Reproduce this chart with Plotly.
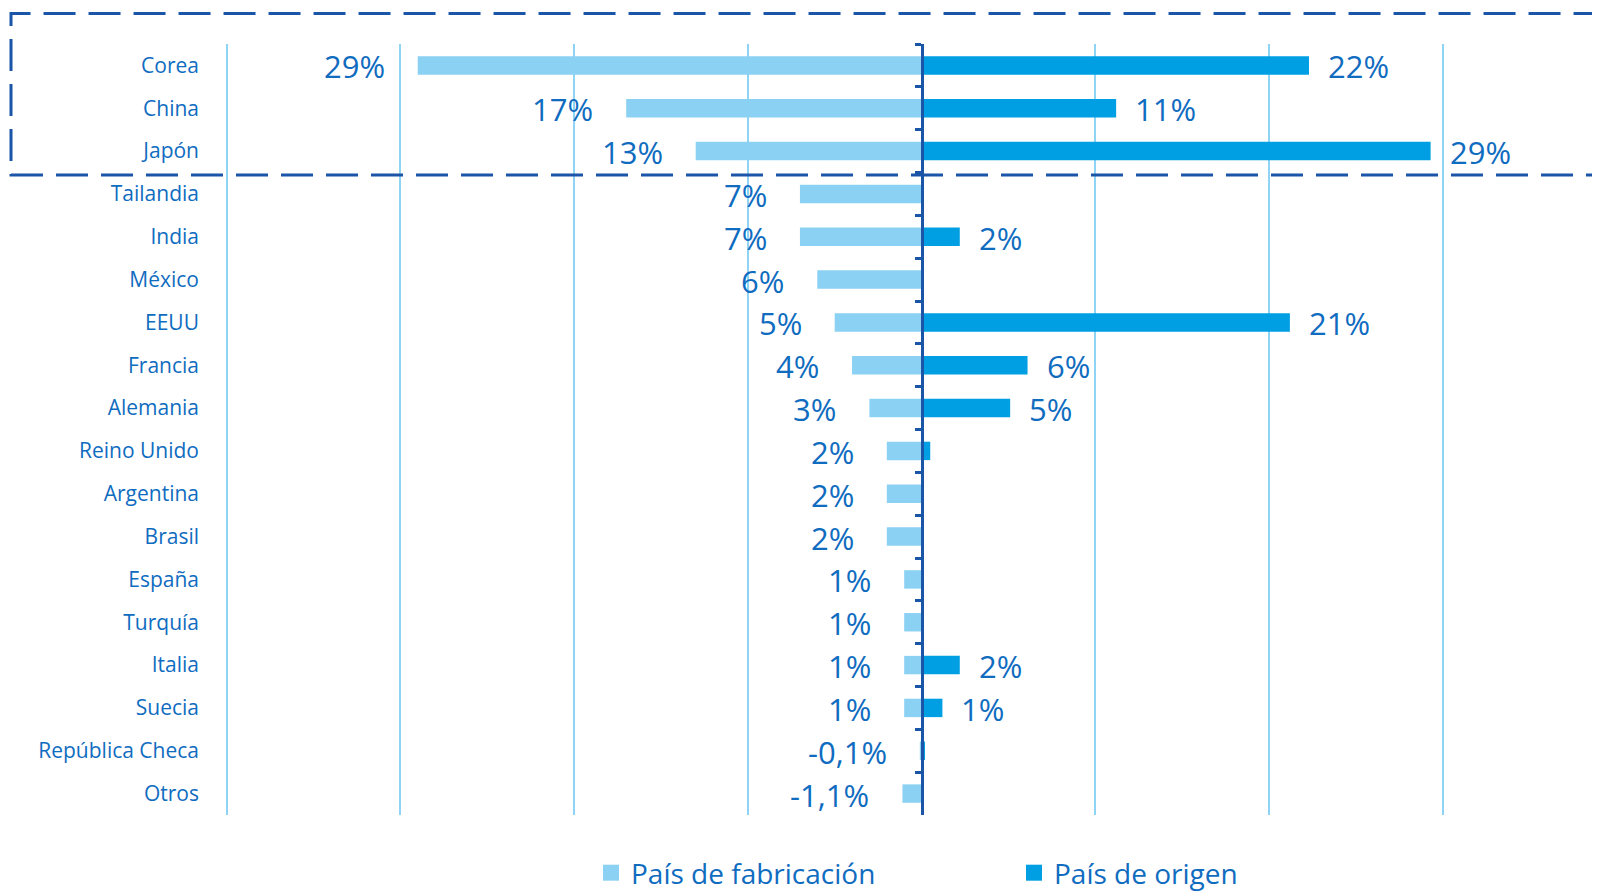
import plotly.graph_objects as go

paises = ["Corea", "China", "Japón", "Tailandia", "India", "México", "EEUU", "Francia",
          "Alemania", "Reino Unido", "Argentina", "Brasil", "España", "Turquía", "Italia",
          "Suecia", "República Checa", "Otros"]
fabricacion = [29, 17, 13, 7, 7, 6, 5, 4, 3, 2, 2, 2, 1, 1, 1, 1, -0.1, -1.1]
origen = [22.3, 11.2, 29.3, 0, 2.2, 0, 21.2, 6.1, 5.1, 0.5, 0, 0, 0, 0, 2.2, 1.2, 0.2, 0]
x_ticks = [-40, -30, -20, -10, 10, 20, 30, 40]

TXT = "#0f6cbf"
LIGHT = "#8bd1f3"
DARK = "#009fe3"
GRID = "#8fd3f5"
NAVY = "#1b55a8"
FONT = "Open Sans"

# page has an 8px body margin; figure sized to fit the 1600x895 window
W, H = 1592, 887
ML, MR, MT, MB = 216, 0, 36, 80
XMIN, XMAX = -40.15, 39.05


def fmt(v):
    if float(v).is_integer():
        return f"{int(v)}%"
    return f"{v:.1f}%".replace(".", ",")


fig = go.Figure()
fig.add_trace(go.Bar(
    y=paises, x=[-abs(v) for v in fabricacion], orientation="h",
    name="País de fabricación", marker=dict(color=LIGHT, line=dict(width=0)),
    width=0.43, hoverinfo="skip", showlegend=False))
fig.add_trace(go.Bar(
    y=paises, x=origen, orientation="h",
    name="País de origen", marker=dict(color=DARK, line=dict(width=0)),
    width=0.43, hoverinfo="skip", showlegend=False))
# legend entries with larger square symbols
for nm, col in [("País de fabricación", LIGHT), ("País de origen", DARK)]:
    fig.add_trace(go.Scatter(x=[None], y=[None], mode="markers", name=nm,
                             marker=dict(symbol="square", size=16, color=col),
                             hoverinfo="skip"))
# helper trace for the centre axis with ticks
fig.add_trace(go.Scatter(y=paises, x=[0] * len(paises), yaxis="y2", mode="markers",
                         marker=dict(opacity=0), showlegend=False, hoverinfo="skip"))

annotations = []
for p, v in zip(paises, fabricacion):
    annotations.append(dict(x=-abs(v), y=p, text=fmt(v), xanchor="right", yanchor="middle",
                            xshift=-31, yshift=-1, showarrow=False,
                            font=dict(family=FONT, size=31, color=TXT)))
for p, v in zip(paises, origen):
    if v >= 1:
        annotations.append(dict(x=v, y=p, text=fmt(round(v)), xanchor="left", yanchor="middle",
                                xshift=17, yshift=-1, showarrow=False,
                                font=dict(family=FONT, size=31, color=TXT)))

pw = W - ML - MR
ph = H - MT - MB
zero_frac = (0 - XMIN) / (XMAX - XMIN)
yrange = [len(paises) - 0.5, -0.5]

shapes = [dict(type="rect", xref="paper", yref="paper",
               x0=(3 - ML) / pw, x1=1.02,
               y0=(H - MB - 167) / ph, y1=(H - MB - 5.5) / ph,
               line=dict(color=NAVY, width=3, dash="32px,13px"),
               fillcolor="rgba(0,0,0,0)", layer="above")]

fig.update_layout(
    width=W, height=H,
    margin=dict(l=ML, r=MR, t=MT, b=MB, pad=0, autoexpand=False),
    paper_bgcolor="white", plot_bgcolor="white",
    barmode="relative",
    font=dict(family=FONT, color=TXT),
    xaxis=dict(range=[XMIN, XMAX], tickvals=x_ticks, showticklabels=False,
               showgrid=True, gridcolor=GRID, gridwidth=2,
               zeroline=False, showline=False, fixedrange=True),
    yaxis=dict(categoryorder="array", categoryarray=paises, range=yrange, autorange=False,
               showgrid=False, showline=False, ticks="",
               tickfont=dict(family=FONT, size=21, color=TXT),
               ticklabelstandoff=24),
    yaxis2=dict(overlaying="y", categoryorder="array", categoryarray=paises,
                range=yrange, autorange=False,
                anchor="free", position=zero_frac, side="left",
                showline=True, linecolor=NAVY, linewidth=2.5,
                ticks="outside", tickson="boundaries", ticklen=6, tickcolor=NAVY, tickwidth=2.5,
                showticklabels=False, showgrid=False),
    legend=dict(orientation="h", x=(583 - ML) / pw, xanchor="left",
                y=-(865 - (H - MB)) / ph, yanchor="middle",
                font=dict(family=FONT, size=28, color=TXT),
                entrywidth=378, entrywidthmode="pixels",
                itemclick=False, itemdoubleclick=False, bgcolor="rgba(0,0,0,0)"),
    annotations=annotations,
    shapes=shapes,
    showlegend=True,
)

fig.write_html("out.html")
